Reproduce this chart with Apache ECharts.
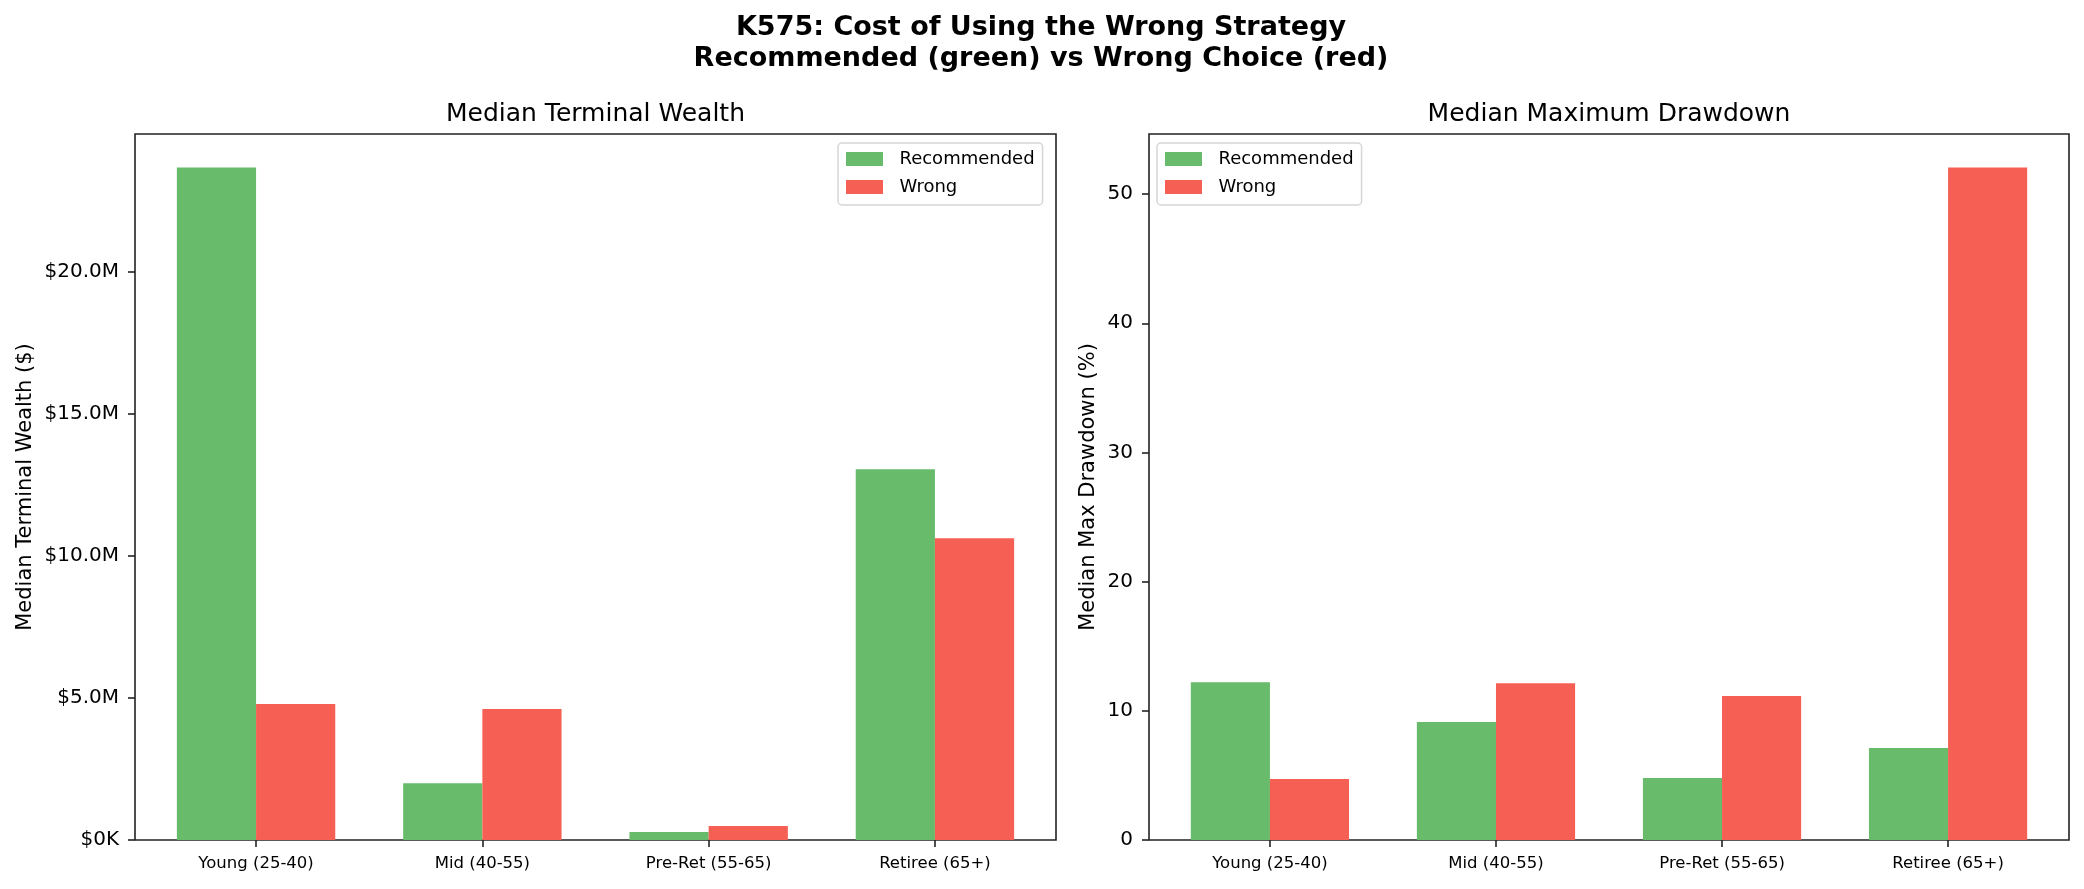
<!DOCTYPE html>
<html><head><meta charset="utf-8">
<script src="https://cdn.jsdelivr.net/npm/echarts@6/dist/echarts.min.js"></script>
<style>html,body{margin:0;padding:0;background:#fff}#c{width:2084px;height:889px}</style>
</head><body><div id="c"></div>
<script>
const categories = ['Young (25-40)', 'Mid (40-55)', 'Pre-Ret (55-65)', 'Retiree (65+)'];
const wealthRecommended = [23.68e6, 2.00e6, 0.28e6, 13.06e6];
const wealthWrong = [4.79e6, 4.61e6, 0.49e6, 10.63e6];
const drawdownRecommended = [12.22, 9.13, 4.80, 7.12];
const drawdownWrong = [4.72, 12.14, 11.14, 52.05];
const wealthTicks = [0, 5e6, 10e6, 15e6, 20e6];
const drawdownTicks = [0, 10, 20, 30, 40, 50];
const seriesNames = ['Recommended', 'Wrong'];
const colors = ['#67bb6a', '#f65f54'];

const FONT = 'DejaVu Sans';
const INK = '#222';
const frameTop = 134, frameBottom = 840, frameH = frameBottom - frameTop;
const frames = [{left: 135, width: 921}, {left: 1149, width: 920}];
// matplotlib x-range: -0.535 .. 3.535 (4.07 units); bars occupy category bands of 1 unit
const dataGrids = frames.map(f => {
  const unit = f.width / 4.07;
  const inset = 0.035 * unit;
  return {left: f.left + inset, width: f.width - 2 * inset, inset, unit};
});

function fmtWealth(v) {
  return v === 0 ? '$0K' : '$' + (v / 1e6).toFixed(1) + 'M';
}

const grids = [];
const xAxes = [];
const yAxes = [];
[0, 1].forEach(i => {
  const f = frames[i], d = dataGrids[i];
  grids.push({left: f.left, top: frameTop, width: f.width, height: frameH, show: true,
    borderColor: INK, borderWidth: 1.6, backgroundColor: 'transparent', containLabel: false, outerBoundsMode: 'none'});
  grids.push({left: d.left, top: frameTop, width: d.width, height: frameH, show: false, containLabel: false, outerBoundsMode: 'none'});
});
const yMaxes = [Math.max(...wealthRecommended, ...wealthWrong) * 1.05, Math.max(...drawdownRecommended, ...drawdownWrong) * 1.05];
const yTickSets = [wealthTicks, drawdownTicks];
const yNames = ['Median Terminal Wealth ($)', 'Median Max Drawdown (%)'];
const yNameGaps = [99, 50];
const yFormatters = [fmtWealth, v => String(v)];
[0, 1].forEach(i => {
  const d = dataGrids[i];
  xAxes.push({gridIndex: 2 * i, type: 'value', show: false, min: 0, max: 1});
  yAxes.push({gridIndex: 2 * i, type: 'value', show: false, min: 0, max: 1});
  xAxes.push({gridIndex: 2 * i + 1, type: 'category', data: categories,
    axisLine: {show: false},
    axisTick: {show: true, alignWithLabel: true, length: 7, lineStyle: {color: INK, width: 1.6}},
    axisLabel: {show: true, margin: 15, fontFamily: FONT, fontSize: 16.5, color: '#000', interval: 0},
    splitLine: {show: false}});
  yAxes.push({gridIndex: 2 * i + 1, type: 'value', min: 0, max: yMaxes[i], offset: d.inset,
    name: yNames[i], nameLocation: 'middle', nameGap: yNameGaps[i], nameRotate: 90,
    nameTextStyle: {fontFamily: FONT, fontSize: 21, color: '#000'},
    axisLine: {show: false},
    axisTick: {show: true, length: 7, customValues: yTickSets[i], lineStyle: {color: INK, width: 1.6}},
    axisLabel: {show: true, margin: 16, customValues: yTickSets[i], formatter: yFormatters[i],
      fontFamily: FONT, fontSize: 20, color: '#000'},
    splitLine: {show: false}});
});

const dataSets = [[wealthRecommended, wealthWrong], [drawdownRecommended, drawdownWrong]];
const series = [];
[0, 1].forEach(i => {
  [0, 1].forEach(s => {
    series.push({type: 'bar', name: seriesNames[s], xAxisIndex: 2 * i + 1, yAxisIndex: 2 * i + 1,
      data: dataSets[i][s], barWidth: 0.35 * dataGrids[i].unit, barGap: '0%',
      itemStyle: {color: colors[s]}, emphasis: {disabled: true}});
  });
});

const legendBase = {orient: 'vertical', top: 143, icon: 'rect', itemWidth: 37, itemHeight: 14, itemGap: 8,
  padding: [6, 8, 8, 8], borderColor: '#d6d6d6', borderWidth: 1.5, borderRadius: 4, backgroundColor: '#fff',
  formatter: n => '  ' + n,
  textStyle: {fontFamily: FONT, fontSize: 18, color: '#000', lineHeight: 20}, data: seriesNames, selectedMode: false};

const option = {
  animation: false,
  backgroundColor: '#fff',
  title: [
    {text: 'K575: Cost of Using the Wrong Strategy\nRecommended (green) vs Wrong Choice (red)', left: 1041, textAlign: 'center', top: 12, padding: 0,
      textStyle: {fontFamily: FONT, fontSize: 27, fontWeight: 'bold', lineHeight: 31, color: '#000'}},
    {text: 'Median Terminal Wealth', left: frames[0].left + frames[0].width / 2, textAlign: 'center', top: 102, padding: 0,
      textStyle: {fontFamily: FONT, fontSize: 25, fontWeight: 'normal', lineHeight: 25, color: '#000'}},
    {text: 'Median Maximum Drawdown', left: frames[1].left + frames[1].width / 2, textAlign: 'center', top: 102, padding: 0,
      textStyle: {fontFamily: FONT, fontSize: 25, fontWeight: 'normal', lineHeight: 25, color: '#000'}}
  ],
  legend: [
    Object.assign({}, legendBase, {left: 838}),
    Object.assign({}, legendBase, {left: 1157})
  ],
  grid: grids,
  xAxis: xAxes,
  yAxis: yAxes,
  series: series
};
const chart = echarts.init(document.getElementById('c'), null, {renderer: 'canvas'});
chart.setOption(option);
</script>
</body></html>
